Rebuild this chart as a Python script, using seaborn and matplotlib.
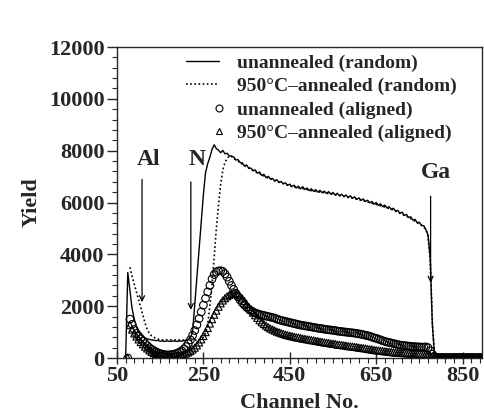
import numpy as np
import pandas as pd
import matplotlib
matplotlib.use("Agg")
import matplotlib.pyplot as plt
import seaborn as sns
from matplotlib.lines import Line2D
from matplotlib.legend_handler import HandlerLine2D

# ---------------------------------------------------------
# data, channels every 5
# ---------------------------------------------------------
channel = np.arange(70, 900, 5)

unannealed_random = [
    0, 3300, 2600, 1900, 1500, 1200, 1000, 900, 830, 780,
    740, 720, 700, 690, 670, 680, 650, 660, 640, 660,
    650, 640, 660, 650, 640, 660, 650, 670, 690, 720,
    780, 1000, 2060, 3150, 4200, 5250, 6300, 7150, 7500, 7750,
    8050, 8230, 8080, 8020, 7920, 8010, 7880, 7900, 7800, 7790,
    7760, 7640, 7660, 7540, 7530, 7410, 7450, 7320, 7330, 7220,
    7260, 7130, 7180, 7040, 7090, 6960, 7010, 6910, 6930, 6830,
    6880, 6770, 6810, 6720, 6760, 6660, 6710, 6610, 6670, 6560,
    6630, 6530, 6610, 6500, 6560, 6460, 6530, 6430, 6500, 6400,
    6470, 6380, 6440, 6350, 6420, 6320, 6390, 6290, 6360, 6260,
    6320, 6230, 6290, 6190, 6260, 6160, 6220, 6120, 6180, 6080,
    6140, 6040, 6090, 5990, 6040, 5940, 6000, 5890, 5950, 5840,
    5900, 5790, 5840, 5730, 5780, 5660, 5700, 5580, 5630, 5500,
    5540, 5420, 5450, 5320, 5350, 5220, 5240, 5110, 5110, 4960,
    4750, 3900, 1300, 120, 60, 40, 60, 40, 60, 40,
    60, 40, 60, 40, 60, 40, 60, 40, 60, 40,
    60, 40, 60, 40, 60, 40,
]

annealed_random = [
    np.nan, np.nan, 3500, 3150, 2850, 2550, 2250, 1950, 1650, 1350,
    1100, 950, 860, 800, 760, 730, 710, 700, 690, 700,
    690, 700, 690, 700, 690, 700, 700, 690, 700, 690,
    690, 700, 690, 700, 700, 720, 800, 950, 1300, 2000,
    2800, 3900, 5000, 5900, 6700, 7250, 7550, 7700, 7800, 7780,
    7700, 7650, 7600, 7550, 7480, 7430, 7390, 7330, 7280, 7240,
    7200, 7150, 7120, 7060, 7030, 6980, 6950, 6920, 6880, 6850,
    6820, 6790, 6760, 6730, 6700, 6680, 6650, 6630, 6610, 6580,
    6560, 6550, 6540, 6520, 6500, 6480, 6460, 6450, 6430, 6420,
    6400, 6390, 6380, 6360, 6350, 6330, 6320, 6300, 6290, 6270,
    6250, 6240, 6220, 6200, 6190, 6170, 6150, 6130, 6110, 6090,
    6070, 6050, 6020, 6000, 5970, 5950, 5930, 5900, 5880, 5850,
    5830, 5800, 5770, 5740, 5710, 5670, 5630, 5590, 5550, 5510,
    5470, 5430, 5380, 5330, 5280, 5220, 5170, 5120, 5050, 4950,
    4700, 3800, 1400, 120, 50, 40, 50, 40, 50, 40,
    50, 40, 50, 40, 50, 40, 50, 40, 50, 40,
    50, 40, 50, 40, 50, 40,
]

unannealed_aligned = [
    np.nan, 0, 1500, 1300, 1100, 950, 850, 750, 650, 560,
    480, 400, 340, 290, 240, 200, 170, 150, 130, 120,
    120, 130, 140, 160, 190, 230, 280, 350, 440, 560,
    700, 870, 1060, 1280, 1520, 1780, 2040, 2300, 2550, 2800,
    3050, 3220, 3320, 3360, 3370, 3340, 3250, 3120, 2960, 2800,
    2650, 2500, 2360, 2240, 2130, 2040, 1960, 1890, 1830, 1780,
    1740, 1710, 1680, 1660, 1640, 1620, 1600, 1580, 1560, 1540,
    1500, 1480, 1450, 1430, 1410, 1390, 1370, 1350, 1330, 1310,
    1290, 1270, 1260, 1240, 1230, 1210, 1200, 1180, 1170, 1150,
    1140, 1130, 1110, 1100, 1090, 1080, 1070, 1060, 1040, 1030,
    1020, 1010, 1000, 990, 980, 970, 960, 950, 930, 920,
    900, 880, 860, 840, 810, 780, 760, 730, 700, 670,
    640, 620, 600, 580, 560, 540, 520, 500, 490, 480,
    470, 460, 450, 440, 440, 430, 430, 420, 420, 430,
    400, 280, 150, 60, 30, 20, 20, 20, 20, 20,
    20, 20, 20, 20, 20, 20, 20, 20, 20, 20,
    20, 20, 20, 20, 20, 20,
]

annealed_aligned = [
    np.nan, 0, 1270, 1100, 950, 830, 720, 620, 530, 440,
    370, 300, 240, 190, 150, 120, 100, 80, 70, 60,
    60, 60, 60, 70, 80, 100, 120, 150, 180, 220,
    270, 330, 400, 490, 600, 720, 850, 1000, 1160, 1330,
    1500, 1670, 1830, 1980, 2110, 2220, 2310, 2380, 2430, 2470,
    2490, 2480, 2440, 2380, 2300, 2200, 2090, 1970, 1860, 1750,
    1650, 1550, 1460, 1380, 1310, 1250, 1190, 1140, 1100, 1060,
    1020, 990, 960, 930, 900, 880, 860, 840, 820, 800,
    790, 770, 750, 740, 720, 710, 690, 680, 660, 650,
    630, 620, 600, 590, 580, 560, 550, 540, 520, 510,
    500, 490, 480, 460, 450, 440, 430, 420, 400, 390,
    380, 370, 350, 340, 330, 310, 300, 290, 280, 270,
    260, 250, 240, 230, 220, 210, 200, 200, 190, 190,
    180, 180, 170, 170, 160, 160, 160, 150, 150, 150,
    150, 100, 60, 30, 20, 10, 10, 10, 10, 10,
    10, 10, 10, 10, 10, 10, 10, 10, 10, 10,
    10, 10, 10, 10, 10, 10,
]

df = pd.DataFrame({
    "channel": channel,
    "unannealed (random)": unannealed_random,
    "950°C–annealed (random)": annealed_random,
    "unannealed (aligned)": unannealed_aligned,
    "950°C–annealed (aligned)": annealed_aligned,
})

# edge markers: (label, channel, arrow top, arrow tip)
edges = [("Al", 108, 7000, 2050), ("N", 221, 6900, 1750), ("Ga", 776, 6350, 2800)]
edge_text_y = [7650, 7650, 7150]


class RightMarker(HandlerLine2D):
    # legend marker drawn only at the right end of the handle
    def create_artists(self, *args, **kwargs):
        arts = super().create_artists(*args, **kwargs)
        for a in arts:
            a.set_markevery([len(a.get_xdata()) - 1])
        return arts


# ---------------------------------------------------------
# plot
# ---------------------------------------------------------
sns.set_style("ticks")
plt.rcParams["font.family"] = ["Liberation Serif", "DejaVu Serif"]
plt.rcParams["font.weight"] = "bold"

fig = plt.figure(figsize=(4.84, 4.15), dpi=100)
ax = fig.add_axes([0.2417, 0.1373, 0.7542, 0.7494])

sns.lineplot(data=df, x="channel", y="unannealed (random)", color="black",
             lw=1.0, estimator=None, ax=ax)
sns.lineplot(data=df, x="channel", y="950°C–annealed (random)", color="black",
             lw=1.2, ls=(0, (1, 1.5)), estimator=None, ax=ax)
sns.scatterplot(data=df, x="channel", y="unannealed (aligned)", marker="o",
                facecolor="none", edgecolor="black", linewidth=0.8, s=30, ax=ax)
sns.scatterplot(data=df, x="channel", y="950°C–annealed (aligned)", marker="^",
                facecolor="none", edgecolor="black", linewidth=0.8, s=26, ax=ax)

for (name, ch, top, tip), ty in zip(edges, edge_text_y):
    ax.annotate("", xy=(ch, tip), xytext=(ch, top),
                arrowprops=dict(arrowstyle="->", color="black", lw=0.9,
                                mutation_scale=9))
    ax.text(ch + 15 if name != "Ga" else ch + 12, ty, name, ha="center",
            va="center", fontsize=17, fontweight="bold")

ax.set_xlim(50, 895)
ax.set_ylim(0, 12000)
ax.set_xticks([50, 250, 450, 650, 850])
ax.set_xticks(np.arange(50, 895, 20), minor=True)
ax.set_yticks(np.arange(0, 12001, 2000))
ax.set_yticks(np.arange(0, 12001, 400), minor=True)
ax.tick_params(axis="both", which="major", labelsize=16, width=1)
ax.tick_params(axis="x", which="major", direction="inout", length=9, pad=1)
ax.tick_params(axis="y", which="major", direction="out", length=7, pad=2)
ax.tick_params(axis="both", which="minor", direction="out", length=3.5, width=0.8)
for lab in ax.get_xticklabels() + ax.get_yticklabels():
    lab.set_fontweight("bold")
for sp in ax.spines.values():
    sp.set_linewidth(1.0)
    sp.set_visible(True)

ax.set_xlabel("Channel No.", fontsize=16, fontweight="bold", labelpad=5)
ax.set_ylabel("Yield", fontsize=16, fontweight="bold", labelpad=5)

handles = [
    Line2D([], [], color="black", lw=1.0),
    Line2D([], [], color="black", lw=1.2, ls=(0, (1, 1.5))),
    Line2D([], [], color="black", ls="none", marker="o", mfc="none", ms=5, mew=0.8),
    Line2D([], [], color="black", ls="none", marker="^", mfc="none", ms=5, mew=0.8),
]
labels = ["unannealed (random)", "950°C–annealed (random)",
          "unannealed (aligned)", "950°C–annealed (aligned)"]
ax.legend(handles, labels, loc="upper left", bbox_to_anchor=(0.1726, 0.978),
          frameon=False, numpoints=2, handlelength=2.3, handletextpad=0.65,
          labelspacing=0.3, borderpad=0, borderaxespad=0,
          prop={"size": 14, "weight": "bold"},
          handler_map={handles[2]: RightMarker(), handles[3]: RightMarker()})

fig.savefig("out.png", dpi=100)
